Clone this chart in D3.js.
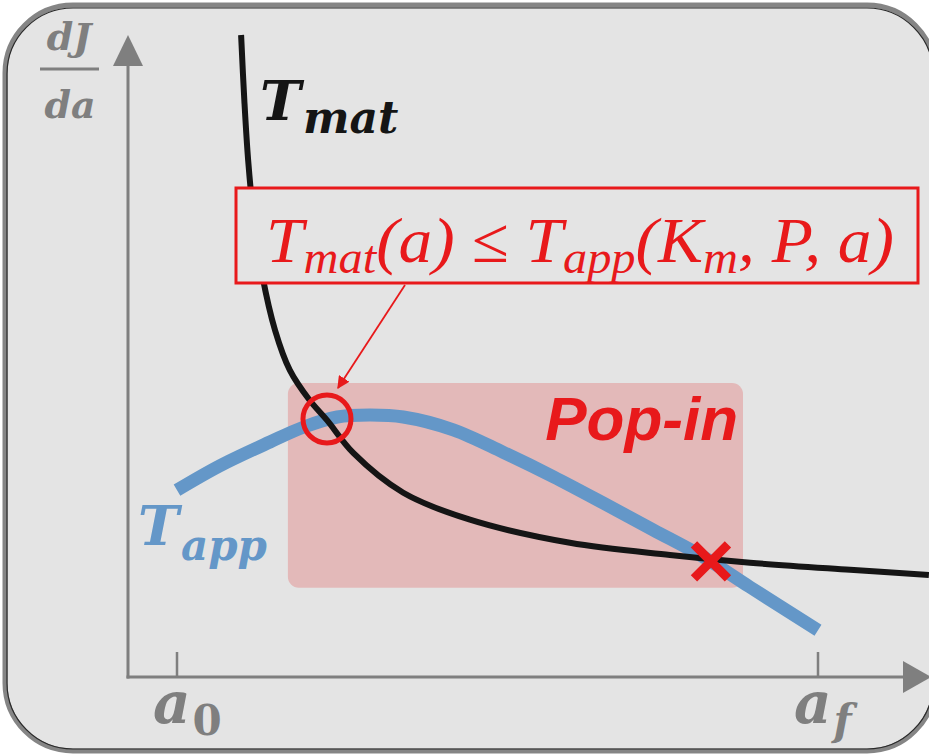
<!DOCTYPE html>
<html>
<head>
<meta charset="utf-8">
<script src="https://cdn.jsdelivr.net/npm/d3@7"></script>
<style>
  body { margin: 0; background: #fff; }
  svg { display: block; }
</style>
</head>
<body>
<svg id="chart"></svg>
<script>
// material resistance curve T_mat (a, value)
const tmatA = [1.00, 1.05, 1.11, 1.20, 1.33, 1.53, 1.76, 2.07, 2.34, 2.75, 3.53, 4.57, 6.13, 7.69, 8.94, 10.50, 11.73];
const tmatV = [10.0, 8.99, 8.05, 7.12, 6.26, 5.40, 4.78, 4.31, 4.00, 3.49, 2.87, 2.45, 2.09, 1.90, 1.78, 1.67, 1.59];

// applied tearing curve T_app
const tappA = [0.00, 0.67, 1.45, 1.97, 2.50, 3.01, 3.53, 4.31, 5.09, 5.87, 6.65, 7.43, 8.21, 8.94, 10.0];
const tappV = [2.91, 3.29, 3.66, 3.89, 4.05, 4.08, 4.05, 3.85, 3.50, 3.12, 2.71, 2.29, 1.87, 1.40, 0.73];

// pop-in region and the two crossings
const popInA = [1.73, 8.83];
const popInV = [1.39, 4.58];
const crossStart = [2.34, 4.02];
const crossEnd = [8.33, 1.80];

const tickLabels = ["0", "f"]; // a_0, a_f
const tickA = [0, 10];

const width = 929, height = 755;
const svg = d3.select("#chart").attr("width", width).attr("height", height);

const x = d3.scaleLinear().domain([0, 10]).range([177, 818]);
const y = d3.scaleLinear().domain([0, 10]).range([677, 35]);

const red = "#e8191b", gray = "#7f7f7f", blue = "#6497c8";
const mathFont = "DejaVu Serif, serif";

/* frame */
svg.append("rect")
    .attr("x", 5).attr("y", 5).attr("width", 930).attr("height", 746)
    .attr("rx", 68).attr("ry", 68)
    .attr("fill", "#e4e4e4")
    .attr("stroke", "#858585").attr("stroke-width", 5);
svg.append("rect")
    .attr("x", 7).attr("y", 8).attr("width", 926).attr("height", 741)
    .attr("rx", 66).attr("ry", 66)
    .attr("fill", "none")
    .attr("stroke", "#2a2a2a").attr("stroke-width", 1.2);

/* pop-in region */
svg.append("rect")
    .attr("x", x(popInA[0])).attr("y", y(popInV[1]))
    .attr("width", x(popInA[1]) - x(popInA[0]))
    .attr("height", y(popInV[0]) - y(popInV[1]))
    .attr("rx", 11)
    .attr("fill", "#e3b9b9");

svg.append("text")
    .attr("x", x(popInA[1]) - 5).attr("y", y(popInV[1]) + 57)
    .attr("text-anchor", "end")
    .attr("font-family", "Liberation Sans, Arial, sans-serif")
    .attr("font-weight", "bold").attr("font-style", "italic")
    .attr("font-size", 62)
    .attr("fill", red)
    .text("Pop-in");

/* axes */
const axisG = svg.append("g").attr("stroke", gray).attr("fill", gray);
const x0 = 128, yBase = y(0);
axisG.append("line").attr("x1", x0).attr("y1", yBase + 1.5).attr("x2", x0).attr("y2", 60).attr("stroke-width", 3);
axisG.append("path").attr("stroke", "none").attr("d", `M${x0},35 L${x0 - 15},66 L${x0 + 15},66 Z`);
axisG.append("line").attr("x1", x0 - 1.5).attr("y1", yBase).attr("x2", 908).attr("y2", yBase).attr("stroke-width", 3);
axisG.append("path").attr("stroke", "none").attr("d", `M931,${yBase} L903,${yBase - 16} L903,${yBase + 16} Z`);

tickA.forEach((a, i) => {
    axisG.append("line")
        .attr("x1", x(a)).attr("x2", x(a))
        .attr("y1", yBase - 25).attr("y2", yBase)
        .attr("stroke-width", 2.5);
    const t = svg.append("text")
        .attr("x", x(a) - 24).attr("y", yBase + 46)
        .attr("font-family", mathFont)
        .attr("font-weight", "bold").attr("font-style", "italic")
        .attr("fill", gray).attr("font-size", 58);
    t.append("tspan").text("a");
    t.append("tspan").attr("dx", 2).attr("dy", 12).attr("font-size", 42)
        .attr("font-style", i === 0 ? "normal" : "italic").text(tickLabels[i]);
});

/* y label dJ/da */
const lab = svg.append("g")
    .attr("font-family", mathFont)
    .attr("font-weight", "bold").attr("font-style", "italic")
    .attr("fill", gray).attr("font-size", 38).attr("text-anchor", "middle");
lab.append("text").attr("x", 69).attr("y", 50).text("dJ");
lab.append("line").attr("x1", 40).attr("x2", 99).attr("y1", 69).attr("y2", 69)
    .attr("stroke", gray).attr("stroke-width", 3);
lab.append("text").attr("x", 70).attr("y", 118).text("da");

/* curves */
const line = d3.line()
    .x(d => x(d[0])).y(d => y(d[1]))
    .curve(d3.curveCatmullRom.alpha(0.5));

svg.append("path")
    .datum(tappA.map((a, i) => [a, tappV[i]]))
    .attr("d", line)
    .attr("fill", "none").attr("stroke", blue).attr("stroke-width", 13);

svg.append("path")
    .datum(tmatA.map((a, i) => [a, tmatV[i]]))
    .attr("d", line)
    .attr("fill", "none").attr("stroke", "#151515").attr("stroke-width", 6);

/* curve labels */
const tm = svg.append("text")
    .attr("x", 260).attr("y", 120)
    .attr("font-family", mathFont)
    .attr("font-weight", "bold").attr("font-style", "italic")
    .attr("fill", "#151515").attr("font-size", 55);
tm.append("tspan").text("T");
tm.append("tspan").attr("dx", 2).attr("dy", 13).attr("font-size", 44).text("mat");

const ta = svg.append("text")
    .attr("x", 138).attr("y", 545)
    .attr("font-family", mathFont)
    .attr("font-weight", "bold").attr("font-style", "italic")
    .attr("fill", blue).attr("font-size", 55);
ta.append("tspan").text("T");
ta.append("tspan").attr("dx", 2).attr("dy", 15).attr("font-size", 42).text("app");

/* markers */
svg.append("circle")
    .attr("cx", x(crossStart[0])).attr("cy", y(crossStart[1]))
    .attr("r", 24)
    .attr("fill", "none").attr("stroke", red).attr("stroke-width", 5);

const cx = x(crossEnd[0]), cy = y(crossEnd[1]), s = 17;
svg.append("path")
    .attr("d", `M${cx - s},${cy - s} L${cx + s},${cy + s} M${cx + s},${cy - s} L${cx - s},${cy + s}`)
    .attr("stroke", red).attr("stroke-width", 9);

/* condition box with arrow */
svg.append("defs").append("marker")
    .attr("id", "arr").attr("viewBox", "0 0 10 10")
    .attr("refX", 9).attr("refY", 5)
    .attr("markerWidth", 7).attr("markerHeight", 7)
    .attr("markerUnits", "strokeWidth")
    .attr("orient", "auto")
    .append("path").attr("d", "M0,0 L10,5 L0,10 Z").attr("fill", red);

svg.append("line")
    .attr("x1", 405).attr("y1", 285)
    .attr("x2", x(crossStart[0]) + 11).attr("y2", y(crossStart[1]) - 31)
    .attr("stroke", red).attr("stroke-width", 1.8)
    .attr("marker-end", "url(#arr)");

svg.append("rect")
    .attr("x", 236).attr("y", 188).attr("width", 682).attr("height", 95)
    .attr("fill", "#e4e4e4")
    .attr("stroke", red).attr("stroke-width", 3);

const eq = svg.append("text")
    .attr("x", 266).attr("y", 262)
    .attr("font-family", "Liberation Serif, serif")
    .attr("font-style", "italic")
    .attr("fill", red).attr("font-size", 64)
    .attr("textLength", 628).attr("lengthAdjust", "spacingAndGlyphs");
eq.append("tspan").text("T");
eq.append("tspan").attr("dy", 11).attr("font-size", 46).text("mat");
eq.append("tspan").attr("dy", -11).text("(a) ≤ T");
eq.append("tspan").attr("dy", 11).attr("font-size", 46).text("app");
eq.append("tspan").attr("dy", -11).text("(K");
eq.append("tspan").attr("dy", 11).attr("font-size", 46).text("m");
eq.append("tspan").attr("dy", -11).text(", P, a)");
</script>
</body>
</html>
